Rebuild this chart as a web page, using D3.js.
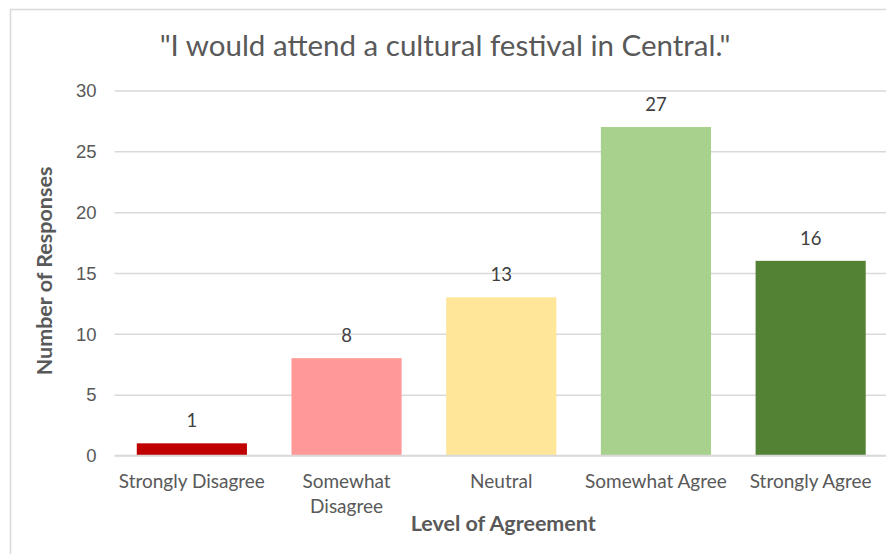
<!DOCTYPE html>
<html>
<head>
<meta charset="utf-8">
<script src="https://cdn.jsdelivr.net/npm/d3@7"></script>
<style>
  html, body { margin: 0; padding: 0; background: #ffffff; }
  svg { display: block; font-family: Lato, "Open Sans", sans-serif; }
</style>
</head>
<body>
<svg id="chart" width="886" height="554"></svg>
<script>
// Survey responses: agreement with attending a cultural festival in Central
const categories = ["Strongly Disagree", "Somewhat Disagree", "Neutral", "Somewhat Agree", "Strongly Agree"];
const categoryLines = [["Strongly Disagree"], ["Somewhat", "Disagree"], ["Neutral"], ["Somewhat Agree"], ["Strongly Agree"]];
const responses = [1, 8, 13, 27, 16];
const barColors = ["#C00000", "#FF9999", "#FFE699", "#A9D18E", "#548235"];
const yTicks = [0, 5, 10, 15, 20, 25, 30];
const title = "\"I would attend a cultural festival in Central.\"";
const xTitle = "Level of Agreement";
const yTitle = "Number of Responses";

const svg = d3.select("#chart");
const W = 886, H = 554;

// outer chart frame (continues past the right and bottom edges)
svg.append("rect")
  .attr("x", 10.5).attr("y", 9.5)
  .attr("width", W + 20).attr("height", H + 20)
  .attr("fill", "#ffffff")
  .attr("stroke", "#d9d9d9").attr("stroke-width", 1.5);

const plot = { left: 114.5, right: 888, top: 90.5, bottom: 455.5 };

const x = d3.scaleBand()
  .domain(categories)
  .range([plot.left, plot.right])
  .paddingInner(0.288)
  .paddingOuter(0.144);

const y = d3.scaleLinear()
  .domain([0, 30])
  .range([plot.bottom, plot.top]);

// horizontal gridlines
const yAxis = d3.axisLeft(y)
  .tickValues(yTicks)
  .tickSize(-(plot.right - plot.left))
  .tickPadding(18)
  .tickFormat(d3.format("d"));

const gy = svg.append("g")
  .attr("transform", `translate(${plot.left},0)`)
  .call(yAxis);
gy.select(".domain").remove();
gy.selectAll(".tick line")
  .attr("stroke", "#d9d9d9")
  .attr("stroke-width", 1.5);
gy.selectAll(".tick text")
  .attr("fill", "#595959")
  .attr("font-size", 18.5)
  .attr("dy", "0.34em");

// bars
svg.append("g").selectAll("rect")
  .data(categories)
  .join("rect")
  .attr("x", d => x(d))
  .attr("y", (d, i) => y(responses[i]))
  .attr("width", x.bandwidth())
  .attr("height", (d, i) => y(0) - y(responses[i]))
  .attr("fill", (d, i) => barColors[i]);

// category axis baseline
svg.append("line")
  .attr("x1", plot.left).attr("x2", plot.right)
  .attr("y1", y(0)).attr("y2", y(0))
  .attr("stroke", "#d9d9d9").attr("stroke-width", 1.5);

// value labels above bars
svg.append("g").selectAll("text")
  .data(categories)
  .join("text")
  .attr("x", d => x(d) + x.bandwidth() / 2)
  .attr("y", (d, i) => y(responses[i]) - 16)
  .attr("text-anchor", "middle")
  .attr("fill", "#404040")
  .attr("font-size", 18.5)
  .text((d, i) => responses[i]);

// category labels
const xl = svg.append("g").selectAll("text")
  .data(categories)
  .join("text")
  .attr("x", d => x(d) + x.bandwidth() / 2)
  .attr("y", 488)
  .attr("text-anchor", "middle")
  .attr("fill", "#595959")
  .attr("font-size", 19);
xl.selectAll("tspan")
  .data((d, i) => categoryLines[i].map(t => ({ t, x: x(d) + x.bandwidth() / 2 })))
  .join("tspan")
  .attr("x", d => d.x)
  .attr("dy", (d, j) => j === 0 ? 0 : 24.5)
  .text(d => d.t);

// axis titles
svg.append("text")
  .attr("x", (plot.left + plot.right) / 2 + 2)
  .attr("y", 531)
  .attr("text-anchor", "middle")
  .attr("fill", "#595959")
  .attr("font-size", 21.5)
  .attr("font-weight", "bold")
  .text(xTitle);

svg.append("text")
  .attr("transform", `translate(52, ${(plot.top + plot.bottom) / 2 - 2}) rotate(-90)`)
  .attr("text-anchor", "middle")
  .attr("fill", "#595959")
  .attr("font-size", 21.5)
  .attr("font-weight", "bold")
  .text(yTitle);

// chart title
svg.append("text")
  .attr("x", 445)
  .attr("y", 56)
  .attr("text-anchor", "middle")
  .attr("fill", "#595959")
  .attr("font-size", 29.5)
  .text(title);
</script>
</body>
</html>
